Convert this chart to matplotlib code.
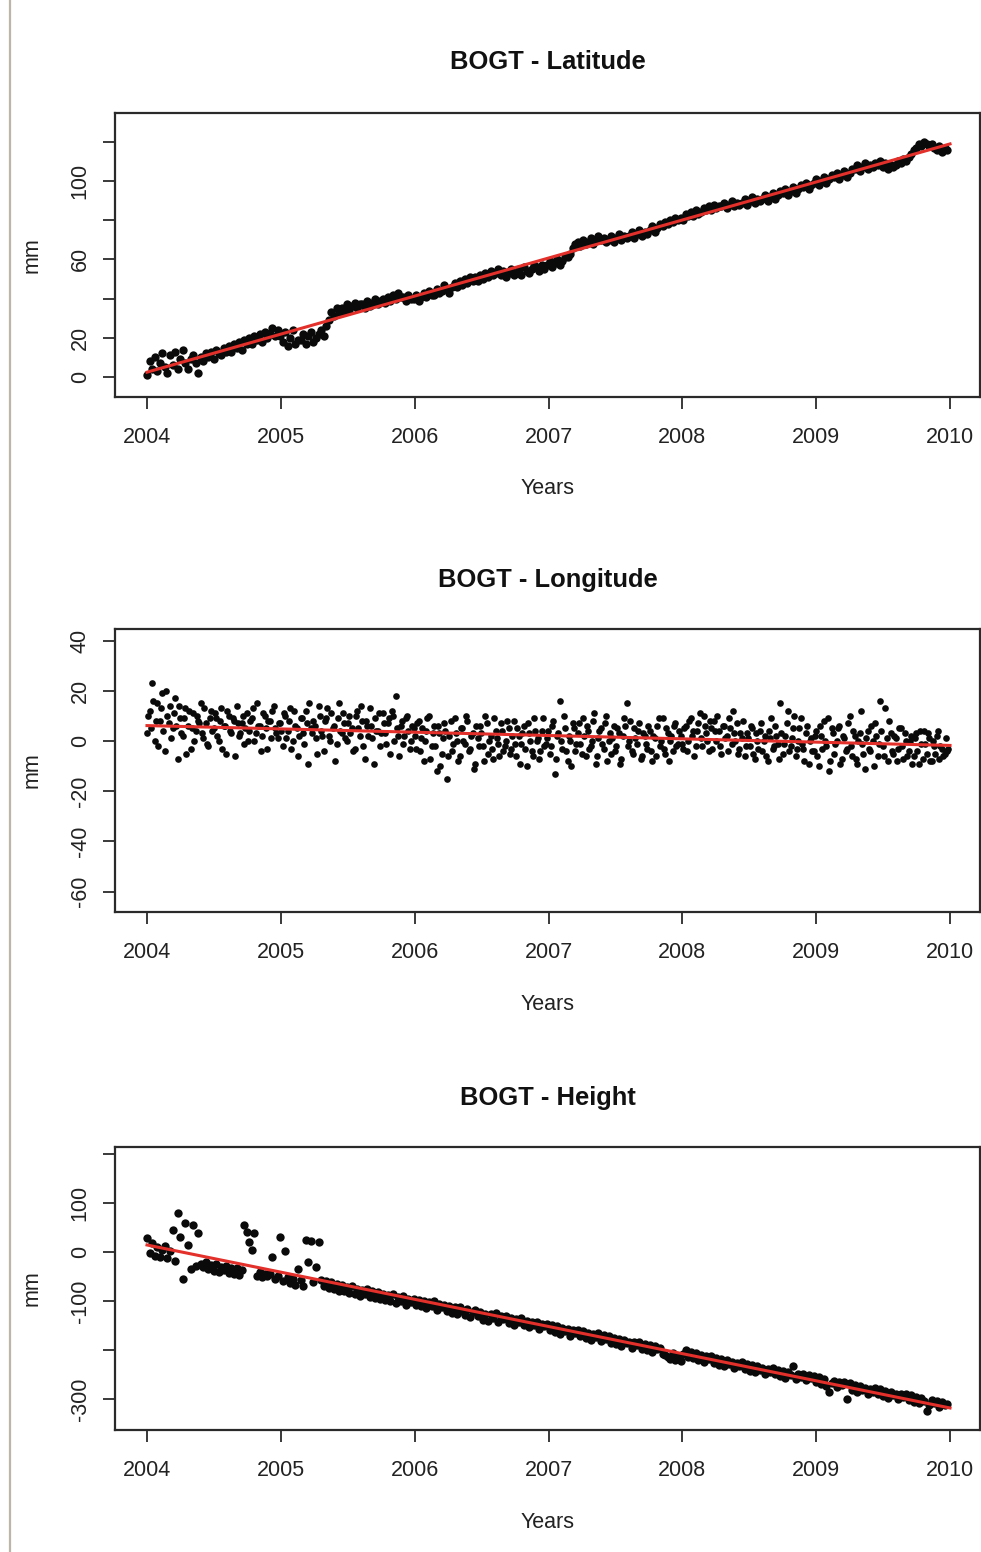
import numpy as np
import pandas as pd
import matplotlib
matplotlib.use("Agg")
import matplotlib.pyplot as plt
from matplotlib.lines import Line2D

plt.rcParams['font.family'] = ['Liberation Sans', 'DejaVu Sans']

# weekly samples (mm)
dates = pd.date_range("2004-01-01", "2009-12-24", freq="7D")

latitude = [
    1, 8, 4, 10, 3, 7, 12, 5, 2, 11, 6, 13, 4, 9, 14, 7,
    4, 9, 11, 7, 2, 10, 8, 12, 10, 13, 9, 14, 12, 11, 15, 13,
    16, 13, 17, 15, 18, 14, 19, 17, 20, 17, 21, 19, 22, 18, 23, 20,
    22, 25, 21, 24,
    # 2005
    21, 18, 23, 16, 20, 24, 17, 19, 19, 22, 17, 21, 23, 18, 20, 22,
    24, 21, 26, 29, 33, 31, 35, 33, 35, 33, 37, 34, 36, 38, 35, 37,
    37, 35, 39, 36, 38, 40, 37, 39, 40, 38, 41, 39, 42, 40, 43, 41,
    41, 39, 42, 40,
    # 2006
    40, 42, 39, 41, 43, 41, 44, 42, 42, 45, 43, 44, 47, 45, 43, 46,
    48, 46, 49, 47, 50, 48, 51, 49, 51, 49, 52, 50, 53, 51, 54, 52,
    53, 55, 52, 54, 51, 53, 55, 52, 53, 55, 52, 56, 54, 53, 55, 57,
    56, 54, 57, 55,
    # 2007
    57, 59, 56, 58, 60, 57, 59, 61, 61, 63, 66, 68, 69, 67, 70, 68,
    69, 71, 68, 70, 72, 70, 71, 69, 70, 72, 69, 71, 73, 70, 72, 71,
    72, 74, 71, 73, 75, 72, 74, 73, 75, 77, 74, 76, 78, 77, 79, 78,
    80, 79, 81, 80,
    # 2008
    81, 80, 83, 82, 84, 82, 85, 83, 84, 86, 85, 87, 85, 88, 86, 87,
    87, 89, 86, 88, 90, 87, 89, 88, 89, 91, 88, 90, 92, 89, 91, 90,
    91, 93, 90, 92, 94, 91, 93, 95, 94, 96, 93, 95, 97, 94, 96, 98,
    97, 99, 96, 98,
    # 2009
    99, 101, 98, 100, 102, 99, 101, 103, 102, 104, 101, 103, 105, 102, 104, 106,
    106, 108, 105, 107, 109, 106, 108, 107, 109, 108, 110, 107, 109, 106, 108, 107,
    108, 110, 109, 111, 110, 112, 114, 116, 117, 119, 118, 120, 119, 118, 119, 117,
    116, 118, 115, 117,
    116,
]

longitude = [
    3, 12, 23, 0, 15, 8, 19, -4, 10, 14, 5, 17, -7,
    9, 2, 13, 6, -3, 11, 4, 8, 15, 1, 7, -2, 12,
    5, 9, 0, 13, 6, -5, 10, 3, 8, 14, 2, 7, -1,
    11, 4, 9, 0, 15, 6, 2, 10, -3, 8, 12, 5, 1,
    # 2005
    7, -2, 10, 4, 13, 0, 6, -6, 9, 3, 12, -9, 5,
    8, 1, 14, 4, -4, 9, 2, 11, 6, -1, 15, 3, 7,
    0, 10, 5, -3, 12, 2, 8, -7, 6, 13, 1, 9, 4,
    -2, 11, 3, 7, -5, 10, 18, 2, 6, -1, 9, 4, 0,
    # 2006
    5, -3, 8, 1, -8, 4, 10, -2, 6, -12, 3, -5, 7,
    -15, 2, -4, 9, 0, -6, 5, -1, 8, -3, 3, -9, 1,
    6, -2, 10, -5, 2, -7, 4, -1, 7, -4, 0, 5, -3,
    8, -6, 2, -1, 6, -10, 3, -4, 9, 0, -7, 4, -2,
    # 2007
    1, -5, 6, -13, 2, 16, -3, 5, -8, 0, 7, -4, 3,
    -1, 9, -6, 4, -2, 8, -9, 1, 5, -3, 10, 0, -5,
    6, -2, 3, -7, 9, 15, 0, -4, 5, -1, 7, -6, 2,
    -3, 4, -8, 1, 6, -2, 9, -5, 3, 0, -4, 7, -1,
    # 2008
    2, -3, 6, 0, 9, 4, -2, 7, 1, 10, 3, -4, 5,
    8, 0, 4, -5, 6, 2, 9, -1, 3, 7, -3, 1, -6,
    3, -2, 5, -7, 0, 4, -4, 2, -8, 1, -3, 6, -1,
    15, -5, 2, 12, -2, 5, -6, 0, 9, -3, 3, -9, 1,
    # 2009
    -4, 4, -10, 2, 8, -2, -12, 5, -5, 0, 6, -7, 1,
    -3, 10, -6, 2, -9, 3, -1, -11, 4, -4, 0, 7, -6,
    16, -2, 13, -8, 3, -5, 1, -3, 5, -7, 0, -4, 2,
    -6, 3, -9, -1, 4, -5, 1, -8, -2, 2, -7, -3, -5,
    -4,
]

# second (mid-week) longitude sample, the cloud is much denser than the others
longitude_mid = [
    10, 5, 16, 8, -2, 13, 4, 20, 7, 1, 11, 6, 14,
    3, 9, -5, 12, 5, 0, 10, 7, 3, 13, -1, 9, 4,
    11, 2, 8, -3, 6, 12, 4, 9, -6, 7, 3, 10, 5,
    0, 8, 13, 3, 6, -4, 11, 5, 8, 1, 14, 3, 7,
    # 2005
    4, 11, 1, 8, -3, 12, 5, 2, 9, -1, 7, 15, 3,
    6, -5, 10, 2, 8, 13, 0, 5, -8, 9, 4, 11, 1,
    7, 3, -4, 10, 5, 14, -2, 8, 2, 6, -9, 4, 11,
    3, 7, -1, 9, 12, 0, 5, -6, 8, 2, 10, -3, 6,
    # 2006
    2, 7, -4, 5, 0, 9, -7, 3, -2, 6, -10, 1, 4,
    -6, 8, -1, 3, -8, 5, 0, 10, -4, 2, -11, 6, -2,
    3, -8, 7, 0, -3, 9, 1, -6, 4, -2, 8, -5, 2,
    -1, 5, -9, 3, -3, 7, 0, -6, 4, 1, -4, 9, -1,
    # 2007
    4, -2, 8, -7, 3, 0, 10, -4, 2, -10, 5, -1, 7,
    -5, 2, 6, -3, 0, 11, -6, 4, -1, 7, -8, 3, 1,
    -4, 5, -9, 2, 6, -2, 8, -5, 1, 4, -7, 3, -1,
    6, -4, 2, -6, 9, 0, -3, 5, -8, 2, 6, -2, 4,
    # 2008
    -1, 5, -4, 8, 2, -6, 4, 11, -2, 6, 0, 8, -3,
    4, 10, -2, 6, 1, -4, 5, 12, 0, -5, 3, 8, -2,
    1, 6, -5, 3, -3, 7, 0, -6, 4, 9, -2, 2, -7,
    3, -1, 7, -4, 1, 10, -3, 5, -1, -8, 6, 0, -4,
    # 2009
    2, -6, 6, -3, 0, 9, -8, 3, -1, 5, -9, 2, -4,
    7, -2, 4, -7, 0, 12, -5, 1, -3, 6, -10, 2, -1,
    4, -6, 1, 8, -4, 2, -8, 5, -2, 3, -6, 0, -9,
    1, -4, 4, -7, -1, 3, -8, 0, -5, 4, -2, -6, 1,
    -3,
]

height = [
    28, -2, 18, -8, 10, -10, 5, 12, -12, 2,
    45, -18, 80, 30, -55, 60, 15, -35, 55, -28, 38, -25,
    -30, -20, -35, -26, -38, -24, -40, -30, -36, -28, -42, -33,
    -44, -32, -46, -36, 55, 40, 20, 5, 38, -48, -40, -52, -44, -50, -45, -10, -56, -48,
    # 2005
    30, -60, 2, -52, -64, -55, -68, -35, -58, -70, 25, -20,
    22, -62, -30, 20, -58, -70, -60, -74, -62, -76, -66, -80,
    -68, -80, -72, -84, -70, -86, -76, -90, -78, -85, -75, -92,
    -80, -94, -82, -96, -85, -98, -88, -100, -86, -104, -92, -101, -90, -108, -96, -103,
    # 2006
    -95, -108, -98, -110, -101, -114, -103, -110, -100, -118, -106, -113,
    -108, -121, -110, -124, -113, -126, -112, -120, -128, -117, -132, -122,
    -119, -131, -122, -138, -127, -140, -126, -134, -124, -142, -130, -137,
    -131, -145, -134, -148, -137, -143, -135, -150, -140, -154, -143, -149, -142, -158, -146, -152,
    # 2007
    -147, -160, -150, -164, -152, -168, -155, -162, -158, -171, -160, -166,
    -159, -172, -162, -176, -165, -180, -168, -174, -166, -182, -170, -177,
    -172, -185, -175, -188, -178, -192, -180, -186, -183, -196, -184, -190,
    -184, -198, -187, -200, -190, -204, -192, -199, -196, -208, -210, -214, -218, -206, -220, -212,
    # 2008
    -222, -208, -200, -214, -204, -216, -207, -220, -210, -224, -212, -219,
    -213, -226, -216, -230, -219, -233, -221, -228, -224, -236, -226, -232,
    -225, -238, -228, -242, -231, -245, -233, -240, -236, -248, -238, -244,
    -237, -250, -240, -254, -243, -257, -245, -252, -232, -260, -250, -256, -249, -262, -252, -258,
    # 2009
    -253, -266, -256, -270, -259, -273, -285, -268, -264, -276, -266, -272,
    -265, -300, -268, -282, -271, -285, -274, -281, -277, -289, -279, -285,
    -277, -290, -280, -294, -283, -297, -286, -292, -289, -300, -290, -296,
    -289, -302, -292, -306, -295, -309, -298, -304, -325, -312, -302, -308, -304, -316, -306, -312,
    -310,
]

titles = ["BOGT - Latitude", "BOGT - Longitude", "BOGT - Height"]
series = [latitude, longitude, height]
extra = [None, longitude_mid, None]
ylims = [(-10.2, 134.7), (-68.1, 44.6), (-363.3, 214.3)]
yticks = [[0, 20, 40, 60, 80, 100, 120],
          [-60, -40, -20, 0, 20, 40],
          [-300, -200, -100, 0, 100, 200]]
ytick_labels = [["0", "20", "", "60", "", "100", ""],
                ["-60", "-40", "-20", "0", "20", "40"],
                ["-300", "", "-100", "0", "100", ""]]
xticks = [2004, 2005, 2006, 2007, 2008, 2009, 2010]
marker_sizes = [6.0, 4.8, 6.0]


def decimal_year(d):
    return np.asarray(d.year + (d.dayofyear - 1) / np.where(d.is_leap_year, 366, 365), dtype=float)


years = decimal_year(dates)
years_mid = decimal_year(dates + pd.Timedelta(days=3))

W, H = 981, 1552
fig = plt.figure(figsize=(W / 100, H / 100), dpi=100)

# axes boxes in pixels (top, bottom)
boxes = [(113, 397), (629, 912), (1147, 1430)]
left_px, right_px = 115, 980

frame_col = '#2a2a2a'
text_col = '#222222'

for i in range(3):
    top, bot = boxes[i]
    ax = fig.add_axes([left_px / W, 1 - bot / H, (right_px - left_px) / W, (bot - top) / H])
    y = np.array(series[i], dtype=float)
    x = years
    if extra[i] is not None:
        x = np.concatenate([years, years_mid])
        y = np.concatenate([y, np.array(extra[i], dtype=float)])

    ax.plot(x, y, 'o', color='#0a0a0a', markersize=marker_sizes[i], markeredgewidth=0)
    coef = np.polyfit(x, y, 1)
    xf = np.array([2004.0, 2010.0])
    ax.plot(xf, np.polyval(coef, xf), color='#e3302a', linewidth=2.2)

    ax.set_xlim(2003.761, 2010.224)
    ax.set_ylim(*ylims[i])
    ax.set_xticks(xticks)
    ax.set_xticklabels([str(t) for t in xticks])
    ax.set_yticks(yticks[i])
    ax.set_yticklabels(ytick_labels[i])

    for s in ax.spines.values():
        s.set_color(frame_col)
        s.set_linewidth(1.6)
    ax.tick_params(axis='both', direction='out', length=8.5, width=1.3,
                   color=frame_col, labelcolor=text_col, labelsize=15.5)
    ax.tick_params(axis='x', pad=13)
    ax.tick_params(axis='y', pad=9, labelrotation=90)
    for lbl in ax.get_yticklabels():
        lbl.set_va('center')

    hgt = bot - top
    ax.text(0.5, 1 + (51 if i == 0 else 49) / hgt, titles[i], transform=ax.transAxes,
            ha='center', va='center', fontsize=18.4, fontweight='bold', color='#111111')
    ax.text(0.5, -92 / hgt, "Years", transform=ax.transAxes,
            ha='center', va='center', fontsize=15.5, color=text_col)
    ax.text(-83 / (right_px - left_px), 0.5, "mm", transform=ax.transAxes,
            ha='center', va='center', rotation=90, fontsize=15.5, color=text_col)

# page border on the left
fig.add_artist(Line2D([10 / W, 10 / W], [0, 1], transform=fig.transFigure,
                      color='#bdb6a8', linewidth=1.6))

fig.savefig("out.png", dpi=100)
